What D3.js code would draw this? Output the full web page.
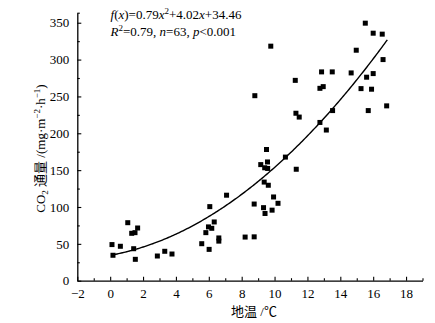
<!DOCTYPE html>
<html><head><meta charset="utf-8">
<script src="https://cdn.jsdelivr.net/npm/d3@7"></script>
<style>body{margin:0;background:#fff}svg{display:block}text{font-family:"Liberation Serif","Times New Roman","Noto Sans CJK SC",serif;fill:#000}</style>
</head><body>
<svg id="c" width="435" height="323"></svg>
<script>
const soilTemp = [0.11,0.17,0.62,1.07,1.31,1.51,1.67,1.43,1.53,2.87,3.32,3.76,5.57,5.82,5.98,6.18,6.06,6.02,6.33,6.61,6.61,7.08,8.21,8.76,8.76,9.33,9.42,9.85,9.94,10.21,9.37,9.62,9.16,9.40,9.58,9.57,11.32,9.51,10.66,8.80,9.77,11.26,11.30,11.50,12.76,13.15,13.53,12.76,12.96,12.86,13.51,14.66,14.97,15.26,15.52,15.60,15.70,15.90,16.00,16.00,16.55,16.60,16.82];
const co2Flux = [49,34.5,46.7,78.7,64.3,65.2,71.5,43.4,29,33.5,39.9,36.2,50.2,65.2,73,71.1,100.5,42.5,79.7,58,53.7,116,59.2,59.5,104,99.1,91.2,95.7,113.6,105,133.8,129.5,157.5,153.2,152.3,161.1,151.2,178,167.7,251,318.2,271.8,227.2,222,214.7,204.4,230.8,261,263.3,283.3,283.3,281.9,312.7,260.6,349.4,276.1,230.8,259.8,281,335.8,334.5,300,237.2];
const fitCoef = [0.79, 4.02, 34.46];
const fitRange = [0.17, 16.86];
const xTicks = [-2,0,2,4,6,8,10,12,14,16,18];
const yTicks = [0,50,100,150,200,250,300,350];

const svg = d3.select("#c");
const x = d3.scaleLinear().domain([-2,19]).range([77.3,422.5]);
const y = d3.scaleLinear().domain([0,363.6]).range([280.7,12.7]);

// axes
const gx = svg.append("g").attr("transform","translate(0,"+y(0)+")");
gx.call(d3.axisBottom(x).tickValues(xTicks).tickSizeInner(-4).tickSizeOuter(0).tickPadding(8)
  .tickFormat(d=>d<0?"\u2212"+Math.abs(d):d));
const gxm = svg.append("g").attr("transform","translate(0,"+y(0)+")");
gxm.call(d3.axisBottom(x).tickValues(d3.range(-1,20,2)).tickSizeInner(-2.5).tickSizeOuter(0).tickFormat(""));
gxm.select(".domain").remove();

const gy = svg.append("g").attr("transform","translate("+x(-2)+",0)");
gy.call(d3.axisLeft(y).tickValues(yTicks).tickSizeInner(-4).tickSizeOuter(0).tickPadding(7));
const gym = svg.append("g").attr("transform","translate("+x(-2)+",0)");
gym.call(d3.axisLeft(y).tickValues(d3.range(25,364,50).concat([363.6])).tickSizeInner(-2.5).tickSizeOuter(0).tickFormat(""));
gym.select(".domain").remove();

svg.selectAll(".domain").attr("stroke","#000").attr("stroke-width",1.3);
svg.selectAll(".tick line").attr("stroke","#000").attr("stroke-width",1.1);
gx.selectAll(".tick text").attr("font-size",13).attr("font-family","Liberation Serif");
gy.selectAll(".tick text").attr("font-size",13).attr("font-family","Liberation Serif").attr("dx","-1");

// fit curve
const fx = v => fitCoef[0]*v*v + fitCoef[1]*v + fitCoef[2];
const cx = d3.range(0, 201).map(i => fitRange[0] + (fitRange[1]-fitRange[0])*i/200);
svg.append("path").datum(cx)
  .attr("d", d3.line().x(d=>x(d)).y(d=>y(fx(d))))
  .attr("fill","none").attr("stroke","#000").attr("stroke-width",1.4);

// points
const s = 5;
svg.append("g").selectAll("rect").data(soilTemp.map((t,i)=>[t,co2Flux[i]])).join("rect")
  .attr("x",d=>x(d[0])-s/2).attr("y",d=>y(d[1])-s/2)
  .attr("width",s).attr("height",s).attr("fill","#000");

// annotation
const a1 = svg.append("text").attr("x",110.5).attr("y",19).attr("font-size",13);
a1.append("tspan").attr("font-style","italic").text("f");
a1.append("tspan").text("(");
a1.append("tspan").attr("font-style","italic").text("x");
a1.append("tspan").text(")=0.79");
a1.append("tspan").attr("font-style","italic").text("x");
a1.append("tspan").attr("font-size",9).attr("dy",-5).text("2");
a1.append("tspan").attr("dy",5).text("+4.02");
a1.append("tspan").attr("font-style","italic").text("x");
a1.append("tspan").text("+34.46");

const a2 = svg.append("text").attr("x",110.5).attr("y",35.7).attr("font-size",13);
a2.append("tspan").attr("font-style","italic").text("R");
a2.append("tspan").attr("font-size",9).attr("dy",-5).text("2");
a2.append("tspan").attr("dy",5).text("=0.79, ");
a2.append("tspan").attr("font-style","italic").text("n");
a2.append("tspan").text("=63, ");
a2.append("tspan").attr("font-style","italic").text("p");
a2.append("tspan").text("<0.001");

// x label
svg.append("text").attr("x",254).attr("y",316).attr("text-anchor","middle").attr("font-size",13)
  .text("地温 /℃");

// y label
const yl = svg.append("text").attr("transform","translate(44.5,148.5) rotate(-90)")
  .attr("text-anchor","middle").attr("font-size",13);
yl.append("tspan").text("CO");
yl.append("tspan").attr("font-size",9).attr("dy",3).text("2");
yl.append("tspan").attr("dy",-3).text(" 通量 /(mg·m");
yl.append("tspan").attr("font-size",9).attr("dy",-5).text("−2");
yl.append("tspan").attr("dy",5).text("·h");
yl.append("tspan").attr("font-size",9).attr("dy",-5).text("−1");
yl.append("tspan").attr("dy",5).text(")");
</script>
</body></html>
